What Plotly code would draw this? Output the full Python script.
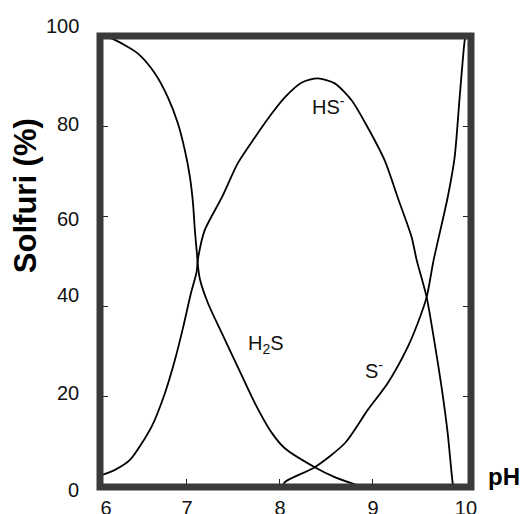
import plotly.graph_objects as go

# --- data (pH vs % sulfide species) ---
h2s_ph = [6.065, 6.194, 6.473, 6.656, 6.795, 6.903, 6.978, 7.032, 7.065, 7.085, 7.107,
          7.118, 7.140, 7.225, 7.375, 7.547, 7.730, 7.912, 8.052, 8.374, 8.589, 8.890]
h2s_pct = [100.0, 99.4, 96.1, 91.7, 86.4, 80.6, 74.6, 68.7, 62.9, 56.9, 51.8,
           49.0, 46.0, 40.8, 34.1, 26.6, 18.6, 12.0, 8.6, 4.4, 2.2, 0.0]

hs_ph = [6.075, 6.226, 6.387, 6.620, 6.763, 6.871, 6.960, 7.042, 7.104, 7.118,
         7.190, 7.375, 7.547, 7.730, 7.912, 8.052, 8.235, 8.407, 8.589, 8.772, 8.944,
         9.126, 9.266, 9.416, 9.470, 9.577, 9.663, 9.738, 9.803, 9.857, 9.867]
hs_pct = [2.6, 3.8, 6.0, 13.4, 20.8, 28.2, 35.5, 42.9, 47.7, 50.5,
          56.9, 64.2, 71.8, 77.5, 82.8, 86.4, 89.7, 90.6, 89.5, 85.7, 79.7,
          72.4, 64.2, 55.4, 50.3, 42.1, 31.9, 22.1, 12.0, 0.9, 0.0]

s_ph = [8.031, 8.052, 8.374, 8.697, 8.944, 9.158, 9.373, 9.481, 9.577, 9.652,
        9.803, 9.878, 9.932, 9.986, 9.997]
s_pct = [0.0, 1.1, 4.4, 9.7, 17.1, 23.0, 31.0, 36.3, 42.1, 50.3,
         64.2, 73.1, 86.4, 99.0, 100.0]

x_tick_vals = [6.13, 7, 8, 9, 10]
x_tick_text = ["6", "7", "8", "9", "10"]
x_minor_ticks = [7, 8, 9]
y_tick_vals = [0, 20, 40, 60, 80, 100]
y_tick_text = ["0", "20", "40", "60", "80", "100"]
# vertical placement of the y labels as lettered in the original (percent of axis height)
y_label_pos = [-0.6, 20.9, 42.6, 59.5, 80.4, 102.3]

species_labels = ["HS<sup>-</sup>", "H<sub>2</sub>S", "S<sup>-</sup>"]
label_ph = [8.525, 7.848, 9.01]
label_pct = [84.6, 31.7, 26.0]

y_title = "Solfuri (%)"
x_title = "pH"

FONT = "Liberation Sans, Arial, sans-serif"
FRAME = "#3a3a3a"

fig = go.Figure()
for xs, ys in [(h2s_ph, h2s_pct), (hs_ph, hs_pct), (s_ph, s_pct)]:
    fig.add_trace(go.Scatter(x=xs, y=ys, mode="lines",
                             line=dict(color="black", width=1.8, shape="spline", smoothing=0.7),
                             showlegend=False, hoverinfo="skip", cliponaxis=True))

for t, xv, yv in zip(species_labels, label_ph, label_pct):
    fig.add_annotation(x=xv, y=yv, xref="x", yref="y", text=t, showarrow=False,
                       xanchor="center", yanchor="middle",
                       font=dict(family=FONT, size=20, color="#111"))

for t, yv in zip(y_tick_text, y_label_pos):
    fig.add_annotation(x=-0.052, y=yv / 100.0, xref="paper", yref="paper", text=t, showarrow=False,
                       xanchor="right", yanchor="middle",
                       font=dict(family=FONT, size=20, color="#111"))

fig.add_annotation(x=-0.202, y=0.645, xref="paper", yref="paper", text="<b>" + y_title + "</b>",
                   textangle=-90, showarrow=False, xanchor="center", yanchor="middle",
                   font=dict(family=FONT, size=31, color="black"))
fig.add_annotation(x=1.089, y=0.024, xref="paper", yref="paper", text="<b>" + x_title + "</b>",
                   showarrow=False, xanchor="center", yanchor="middle",
                   font=dict(family=FONT, size=24, color="black"))

fig.add_shape(type="rect", xref="paper", yref="paper", x0=0, y0=0, x1=1, y1=1,
              line=dict(color=FRAME, width=7), layer="above")

fig.update_layout(
    width=524, height=514,
    margin=dict(l=100, r=53, t=36, b=27, autoexpand=False),
    paper_bgcolor="white", plot_bgcolor="white",
    xaxis=dict(range=[6.065, 10.054], tickmode="array", tickvals=x_tick_vals, ticktext=x_tick_text,
               ticks="", showgrid=False, zeroline=False, showline=False, mirror="ticks",
               automargin=False,
               tickfont=dict(family=FONT, size=20, color="#111"), ticklabelstandoff=7,
               minor=dict(tickmode="array", tickvals=x_minor_ticks, ticks="inside", ticklen=8,
                          tickwidth=1.2, tickcolor="#222", showgrid=False)),
    yaxis=dict(range=[0, 100], tickmode="array", tickvals=y_tick_vals, showticklabels=False,
               ticks="inside", ticklen=8, tickwidth=1.2, tickcolor="#222", automargin=False,
               showgrid=False, zeroline=False, showline=False, mirror="ticks"),
)

# remove the page's default body margin so the 524x514 figure fills the window exactly
fig.write_html("out.html", config={"displayModeBar": False},
               post_script="document.body.style.margin='0px';document.body.style.overflow='hidden';")
